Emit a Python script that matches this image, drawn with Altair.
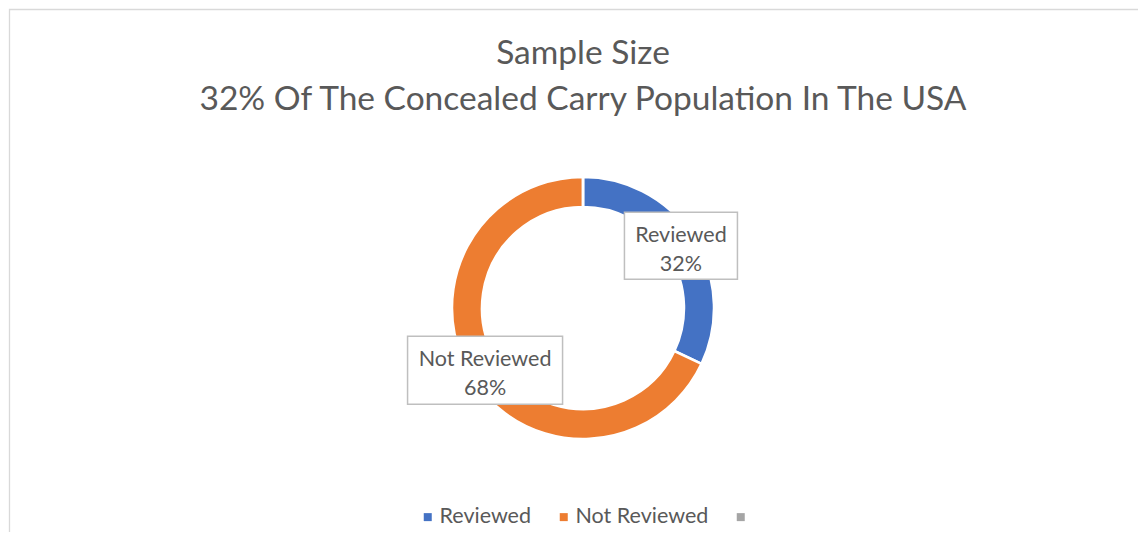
import altair as alt
import pandas as pd

# ---- data ----
categories = ["Reviewed", "Not Reviewed", ""]
shares = [32, 68, 0]
order_idx = [0, 1, 2]
colors = ["#4472C4", "#ED7D31", "#A5A5A5"]
title_lines = ["Sample Size", "32% Of The Concealed Carry Population In The USA"]

df = pd.DataFrame({"category": categories, "share": shares, "idx": order_idx})

# ---- layout / style ----
W, H = 1110, 336
R_OUT, R_IN, R_LAB = 131, 101, 116
FONT = "Lato"
TXT = "#595959"
box_paths = [
    "M-0.729,-0.432L0.729,-0.432L0.729,0.432L-0.729,0.432Z",
    "M-1,-0.439L1,-0.439L1,0.439L-1,0.439Z",
]

base = alt.Chart(df)

color = alt.Color(
    "category:N",
    scale=alt.Scale(domain=categories, range=colors),
    sort=categories,
    legend=alt.Legend(
        orient="none", legendX=389, legendY=366, direction="horizontal", title=None,
        symbolType="square", symbolSize=64, symbolStrokeWidth=0,
        labelFont=FONT, labelFontSize=21.5, labelColor=TXT,
        columnPadding=21, labelOffset=1, labelLimit=400,
    ),
)

ring = base.mark_arc(innerRadius=R_IN, outerRadius=R_OUT, stroke="white", strokeWidth=2.5).encode(
    theta=alt.Theta("share:Q", stack=True),
    color=color,
    order=alt.Order("idx:Q"),
)

lab = (
    base.transform_filter("datum.share > 0")
    .transform_joinaggregate(total="sum(share)")
    .transform_window(cum="sum(share)", sort=[alt.SortField("idx")], frame=[None, 0])
    .transform_calculate(
        ang="2*PI*(datum.cum - datum.share/2)/datum.total",
        lx=f"{R_LAB}*sin(datum.ang)",
        ly=f"{R_LAB}*cos(datum.ang)",
        label="datum.category + '\\n' + datum.share + '%'",
    )
)

xenc = alt.X("lx:Q", scale=alt.Scale(domain=[-W / 2, W / 2], nice=False, zero=False), axis=None)
yenc = alt.Y("ly:Q", scale=alt.Scale(domain=[-H / 2, H / 2], nice=False, zero=False), axis=None)

boxes = lab.mark_point(filled=True, fill="white", stroke="#BFBFBF", strokeWidth=1.5, opacity=1, size=24025).encode(
    x=xenc, y=yenc,
    shape=alt.Shape("category:N", scale=alt.Scale(domain=categories[:2], range=box_paths), legend=None),
)

texts = lab.mark_text(font=FONT, fontSize=21.5, color=TXT, lineBreak="\n", lineHeight=29,
                      baseline="middle", align="center", dy=-10).encode(
    x=xenc, y=yenc, text="label:N",
)

frame = alt.Chart(pd.DataFrame({"f": [0]})).mark_rect(
    fillOpacity=0, stroke="#D9D9D9", strokeWidth=1.3
).encode(
    x=alt.value(-18.5), x2=alt.value(1200), y=alt.value(-130.5), y2=alt.value(500)
)

chart = alt.layer(frame, ring, boxes, texts).properties(
    width=W, height=H,
    title=alt.Title(text=title_lines, font=FONT, fontSize=33.5, fontWeight="normal",
                    color=TXT, anchor="middle", lineHeight=46, offset=-109),
    autosize=alt.AutoSizeParams(type="none"),
    padding={"left": 20, "top": 132, "right": 0, "bottom": 56},
).configure_view(strokeWidth=0)

chart.save("out.html", embed_options={"renderer": "svg", "actions": False})
